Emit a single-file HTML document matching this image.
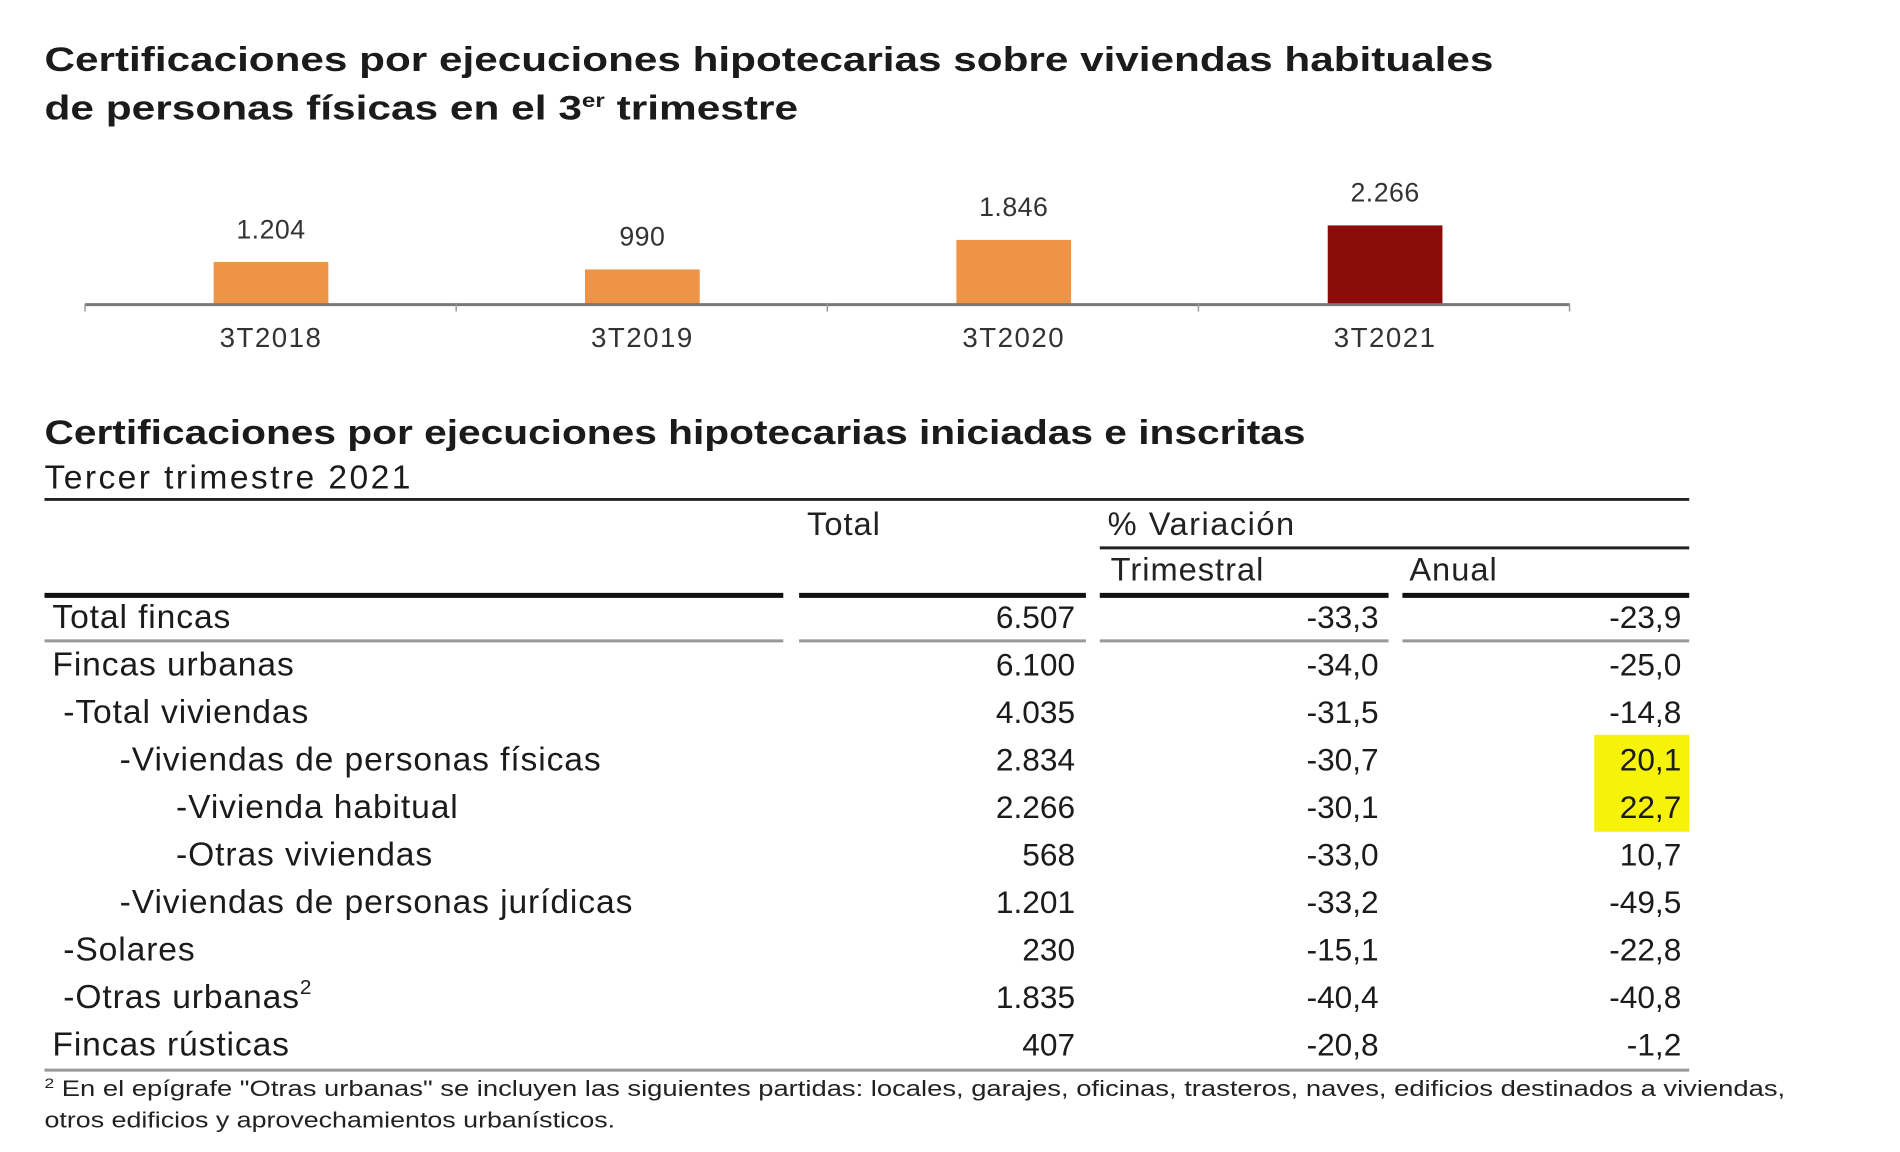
<!DOCTYPE html>
<html><head><meta charset="utf-8"><style>
html,body{margin:0;padding:0;background:#fff;}
svg{display:block;font-family:"Liberation Sans",Arial,sans-serif;}
</style></head><body>
<svg id="chart" width="1900" height="1152" viewBox="0 0 1900 1152">
<g transform="scale(0.989)">
<g fill="#1b1b1b" font-weight="bold" font-size="35">
<text x="45" y="72" textLength="1465" lengthAdjust="spacingAndGlyphs">Certificaciones por ejecuciones hipotecarias sobre viviendas habituales</text>
<text x="45" y="121" textLength="762" lengthAdjust="spacingAndGlyphs">de personas físicas en el 3<tspan font-size="20" dy="-13">er</tspan><tspan dy="13"> trimestre</tspan></text>
</g>
<g id="bars"></g>
<g id="table"></g>
</g>
</svg>
<script>
const categories = ["3T2018","3T2019","3T2020","3T2021"];
const values = [1204, 990, 1846, 2266];
const valueLabels = ["1.204","990","1.846","2.266"];

const rowLabels = ["Total fincas","Fincas urbanas","-Total viviendas","-Viviendas de personas físicas","-Vivienda habitual","-Otras viviendas","-Viviendas de personas jurídicas","-Solares","-Otras urbanas","Fincas rústicas"];
const rowIndent = [0,0,1,2,3,3,2,1,1,0];
const totals = ["6.507","6.100","4.035","2.834","2.266","568","1.201","230","1.835","407"];
const trimestral = ["-33,3","-34,0","-31,5","-30,7","-30,1","-33,0","-33,2","-15,1","-40,4","-20,8"];
const anual = ["-23,9","-25,0","-14,8","20,1","22,7","10,7","-49,5","-22,8","-40,8","-1,2"];

const NS="http://www.w3.org/2000/svg";
function mk(parent,tag,attrs,text){const e=document.createElementNS(NS,tag);for(const k in attrs)e.setAttribute(k,attrs[k]);if(text!==undefined)e.textContent=text;parent.appendChild(e);return e;}

// bar chart
const bg=document.getElementById('bars');
const baseY=307, scaleY=0.0349, x0=274, step=375.5, bw=116;
const xPos=i=>x0+i*step;
const yPos=v=>baseY-v*scaleY;
values.forEach((v,i)=>{
  const r=mk(bg,'rect',{x:xPos(i)-bw/2,y:yPos(v),width:bw,height:baseY-yPos(v),fill:i===values.length-1?'#8c0b0b':'#ef9446'});
  
  
  const t=mk(bg,'text',{x:xPos(i),y:yPos(v)-24,'text-anchor':'middle','font-size':27,fill:'#333','letter-spacing':0.5},valueLabels[i]);
  
  
  const c=mk(bg,'text',{x:xPos(i),y:351,'text-anchor':'middle','font-size':28,fill:'#333','letter-spacing':1.5},categories[i]);
  
  
});
const ax=mk(bg,'line',{x1:86,y1:baseY+1,x2:1587,y2:baseY+1,stroke:'#777','stroke-width':3});


for(let i=0;i<=4;i++){const tx=86+i*375.25;const tk=mk(bg,'line',{x1:tx,y1:baseY,x2:tx,y2:baseY+8,stroke:'#999','stroke-width':1.5});

}

// table
const tg=document.getElementById('table');
let e;
e=mk(tg,'text',{x:45,y:449,'font-size':35,'font-weight':'bold',fill:'#1b1b1b',textLength:1275,lengthAdjust:'spacingAndGlyphs'},'Certificaciones por ejecuciones hipotecarias iniciadas e inscritas');


e=mk(tg,'text',{x:45,y:494,'font-size':34,fill:'#1b1b1b',textLength:370,lengthAdjust:'spacing'},'Tercer trimestre 2021');


mk(tg,'line',{x1:45,y1:505,x2:1708,y2:505,stroke:'#222','stroke-width':3});
mk(tg,'line',{x1:1112,y1:554,x2:1708,y2:554,stroke:'#222','stroke-width':3});
e=mk(tg,'text',{x:816,y:541,'font-size':33,fill:'#222','letter-spacing':1},'Total');


e=mk(tg,'text',{x:1120,y:541,'font-size':33,fill:'#222','letter-spacing':1.5},'% Variación');


e=mk(tg,'text',{x:1123,y:587,'font-size':33,fill:'#222','letter-spacing':1},'Trimestral');


e=mk(tg,'text',{x:1425,y:587,'font-size':33,fill:'#222','letter-spacing':1},'Anual');


const segs=[[45,792],[808,1098],[1112,1404],[1418,1708]];
segs.forEach(s=>{mk(tg,'line',{x1:s[0],y1:602,x2:s[1],y2:602,stroke:'#111','stroke-width':5});
mk(tg,'line',{x1:s[0],y1:648,x2:s[1],y2:648,stroke:'#999','stroke-width':3});});
mk(tg,'line',{x1:45,y1:1082,x2:1708,y2:1082,stroke:'#999','stroke-width':3});
const hl=mk(tg,'rect',{x:1612,y:743,width:96,height:98,fill:'#f6f20a'});


const indentX=[53,64,121,178];
rowLabels.forEach((lab,i)=>{
  const y=635+i*48;
  const t=mk(tg,'text',{x:indentX[rowIndent[i]],y:y,'font-size':34,fill:'#1b1b1b','letter-spacing':0.9},lab);
  if(lab==='-Otras urbanas'){mk(t,'tspan',{'font-size':21,dy:-14},'2');}
  
  
  const a=mk(tg,'text',{x:1087,y:y,'font-size':32,'text-anchor':'end',fill:'#1b1b1b'},totals[i]);
  
  
  const b=mk(tg,'text',{x:1394,y:y,'font-size':32,'text-anchor':'end',fill:'#1b1b1b'},trimestral[i]);
  
  
  const c=mk(tg,'text',{x:1700,y:y,'font-size':32,'text-anchor':'end',fill:'#1b1b1b'},anual[i]);
  
  
});
e=mk(tg,'text',{x:45,y:1108,'font-size':22,fill:'#222',textLength:1760,lengthAdjust:'spacingAndGlyphs'},'');
mk(e,'tspan',{'font-size':14,dy:-8},'2');
mk(e,'tspan',{dy:8},' En el epígrafe "Otras urbanas" se incluyen las siguientes partidas: locales, garajes, oficinas, trasteros, naves, edificios destinados a viviendas,');


e=mk(tg,'text',{x:45,y:1140,'font-size':22,fill:'#222',textLength:577,lengthAdjust:'spacingAndGlyphs'},'otros edificios y aprovechamientos urbanísticos.');


</script>
</body></html>
